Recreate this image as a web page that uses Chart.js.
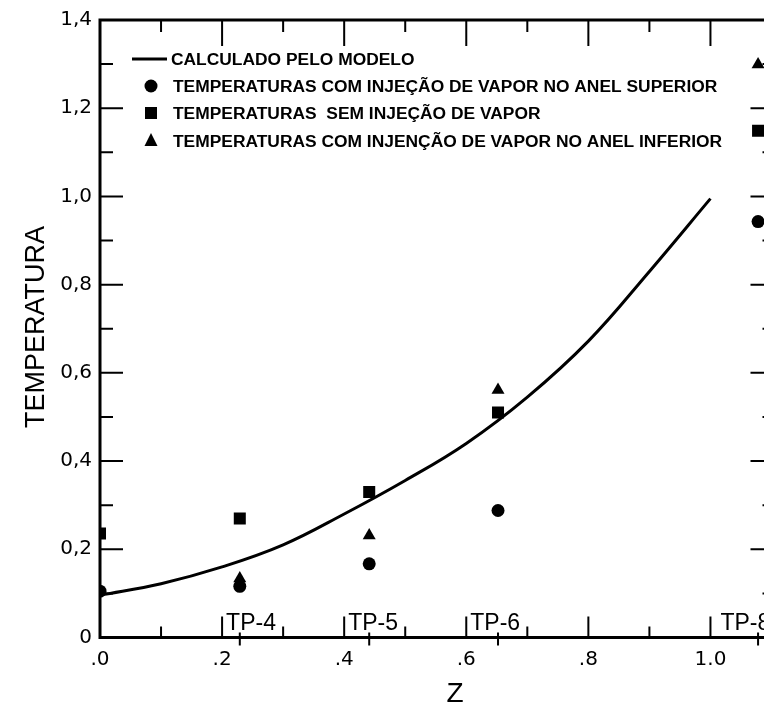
<!DOCTYPE html>
<html lang="pt">
<head>
<meta charset="UTF-8">
<title>Temperatura x Z</title>
<script src="https://cdn.jsdelivr.net/npm/chart.js"></script>
<style>
  html, body { margin: 0; padding: 0; background: #fff; overflow: hidden; }
  #chart { display: block; }
</style>
</head>
<body>
<canvas id="chart" width="790" height="704"></canvas>
<script>
// curva calculada pelo modelo
const modelZ = [0, 0.1, 0.2, 0.3, 0.4, 0.5, 0.6, 0.7, 0.8, 0.9, 1.0];
const modelT = [0.096, 0.122, 0.160, 0.210, 0.280, 0.356, 0.440, 0.545, 0.672, 0.830, 0.995];

// posicoes dos termopares e temperaturas medidas
const tpZ = [0, 0.229, 0.441, 0.652, 1.078];
const superiorT = [0.105, 0.116, 0.167, 0.288, 0.943];   // circulos
const semInjecaoT = [0.236, 0.270, 0.330, 0.510, 1.149]; // quadrados
const inferiorT = [0.105, 0.134, 0.231, 0.561, 1.299];   // triangulos

const tpNames = ['TP-4', 'TP-5', 'TP-6', 'TP-8'];
const tpNameZ = [0.229, 0.441, 0.652, 1.078];

const xTicks = [0, 0.2, 0.4, 0.6, 0.8, 1.0];
const xTickLabels = ['.0', '.2', '.4', '.6', '.8', '1.0'];
const yTicks = [0, 0.2, 0.4, 0.6, 0.8, 1.0, 1.2, 1.4];
const yTickLabels = ['0', '0,2', '0,4', '0,6', '0,8', '1,0', '1,2', '1,4'];

const legendLabels = [
  'CALCULADO PELO MODELO',
  'TEMPERATURAS COM INJEÇÃO DE VAPOR NO ANEL SUPERIOR',
  'TEMPERATURAS  SEM INJEÇÃO DE VAPOR',
  'TEMPERATURAS COM INJENÇÃO DE VAPOR NO ANEL INFERIOR'
];

const pts = (xs, ys) => xs.map((x, i) => ({ x, y: ys[i] }));

// moldura, marcas internas, rotulos TP, legenda e titulos
const frame = {
  id: 'frame',
  afterDatasetsDraw(chart) {
    const { ctx, chartArea: a, scales: { x, y } } = chart;
    ctx.save();
    ctx.strokeStyle = '#000';
    ctx.fillStyle = '#000';
    ctx.lineWidth = 3;
    ctx.strokeRect(a.left, a.top, a.right - a.left, a.bottom - a.top);

    ctx.lineWidth = 2;
    ctx.beginPath();
    for (let i = 1; i <= 10; i++) {
      const px = x.getPixelForValue(i / 10);
      const major = i % 2 === 0;
      ctx.moveTo(px, a.bottom); ctx.lineTo(px, a.bottom - (major ? 21 : 11));
      ctx.moveTo(px, a.top); ctx.lineTo(px, a.top + (major ? 26 : 12));
    }
    for (let i = 1; i <= 13; i++) {
      const py = y.getPixelForValue(i / 10);
      const major = i % 2 === 0;
      ctx.moveTo(a.left, py); ctx.lineTo(a.left + (major ? 23 : 13), py);
      ctx.moveTo(a.right, py); ctx.lineTo(a.right - (major ? 21 : 9), py);
    }
    tpNameZ.forEach(z => {
      const px = x.getPixelForValue(z);
      ctx.moveTo(px, a.bottom - 5); ctx.lineTo(px, a.bottom + 8);
    });
    ctx.stroke();

    // rotulos dos termopares, junto a marca maior anterior
    ctx.font = '23px "Liberation Sans", Arial, sans-serif';
    ctx.textAlign = 'left';
    ctx.textBaseline = 'alphabetic';
    tpNames.forEach((t, i) => {
      const major = Math.floor(tpNameZ[i] * 5 + 1e-6) / 5;
      ctx.fillText(t, x.getPixelForValue(major) + 4 + (major > 0.9 ? 6 : 0), a.bottom - 7.5);
    });

    // legenda
    const rows = [59, 86, 113, 140.5];
    ctx.lineWidth = 3;
    ctx.beginPath();
    ctx.moveTo(132, rows[0]); ctx.lineTo(167, rows[0]);
    ctx.stroke();
    ctx.beginPath();
    ctx.arc(151, rows[1], 6.5, 0, Math.PI * 2);
    ctx.fill();
    ctx.fillRect(145, rows[2] - 6, 12, 12);
    ctx.beginPath();
    ctx.moveTo(151, rows[3] - 7.5);
    ctx.lineTo(157.5, rows[3] + 5.5);
    ctx.lineTo(144.5, rows[3] + 5.5);
    ctx.closePath();
    ctx.fill();
    ctx.font = 'bold 17.4px "Liberation Sans", Arial, sans-serif';
    legendLabels.forEach((t, i) => {
      ctx.fillText(t, i === 0 ? 171 : 173, rows[i] + 6.3);
    });

    // titulos dos eixos
    ctx.font = '28px "Liberation Sans", Arial, sans-serif';
    ctx.textAlign = 'center';
    ctx.fillText('Z', 455, 701.5);
    ctx.translate(43.5, 327);
    ctx.rotate(-Math.PI / 2);
    ctx.font = '27px "Liberation Sans", Arial, sans-serif';
    ctx.fillText('TEMPERATURA', 0, 0);
    ctx.restore();
  }
};

const scatterStyle = {
  showLine: false,
  backgroundColor: '#000',
  borderColor: '#000',
  borderWidth: 0,
  clip: 0
};

new Chart(document.getElementById('chart'), {
  type: 'scatter',
  data: {
    datasets: [
      {
        label: legendLabels[0],
        data: pts(modelZ, modelT),
        showLine: true,
        borderColor: '#000',
        borderWidth: 3,
        pointRadius: 0,
        tension: 0.4
      },
      { ...scatterStyle, label: legendLabels[1], data: pts(tpZ, superiorT), pointStyle: 'circle', pointRadius: 6.5 },
      { ...scatterStyle, label: legendLabels[2], data: pts(tpZ, semInjecaoT), pointStyle: 'rect', pointRadius: 8.5 },
      { ...scatterStyle, label: legendLabels[3], data: pts(tpZ, inferiorT), pointStyle: 'triangle', pointRadius: 7.5 }
    ]
  },
  options: {
    responsive: false,
    animation: false,
    layout: { padding: { top: 15, right: 18.5, bottom: 0, left: 0 } },
    plugins: { legend: { display: false }, tooltip: { enabled: false } },
    scales: {
      x: {
        type: 'linear',
        min: 0,
        max: 1.1,
        grid: { display: false, drawTicks: false },
        border: { display: false },
        afterFit: s => { s.height = 66.5; },
        afterBuildTicks: s => { s.ticks = xTicks.map(v => ({ value: v })); },
        ticks: {
          color: '#000',
          padding: 10,
          maxRotation: 0,
          autoSkip: false,
          font: { family: '"DejaVu Sans", sans-serif', size: 20 },
          callback: (v, i) => xTickLabels[i]
        }
      },
      y: {
        type: 'linear',
        min: 0,
        max: 1.4,
        grid: { display: false, drawTicks: false },
        border: { display: false },
        afterFit: s => { s.width = 100; },
        afterBuildTicks: s => { s.ticks = yTicks.map(v => ({ value: v })); },
        ticks: {
          color: '#000',
          padding: 8,
          autoSkip: false,
          font: { family: '"DejaVu Sans", sans-serif', size: 20 },
          callback: (v, i) => yTickLabels[i]
        }
      }
    }
  },
  plugins: [frame]
});
</script>
</body>
</html>
